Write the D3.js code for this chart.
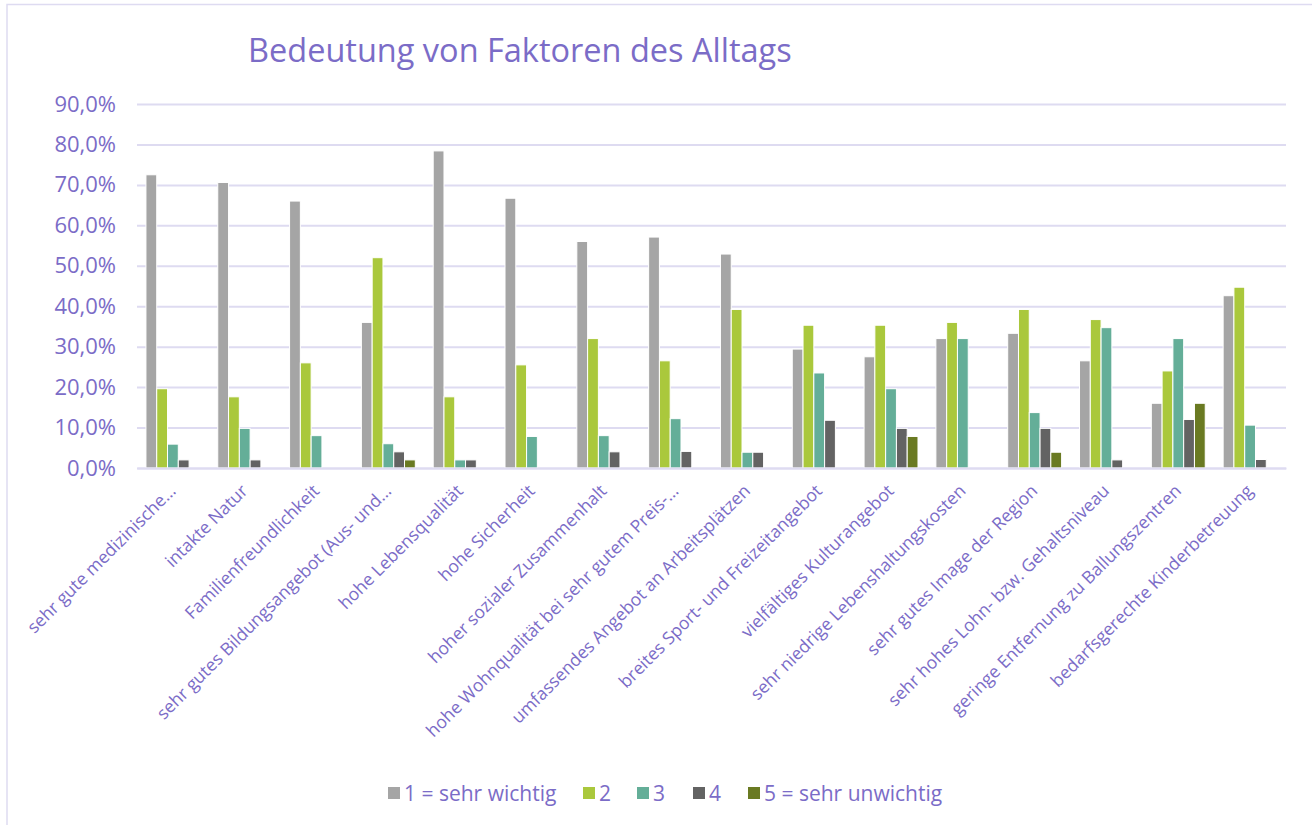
<!DOCTYPE html>
<html>
<head>
<meta charset="utf-8">
<script src="https://cdn.jsdelivr.net/npm/d3@7"></script>
<style>
  body { margin: 0; background: #fff; }
  text { font-family: "Open Sans", sans-serif; fill: #7b6cc7; }
</style>
</head>
<body>
<svg width="1312" height="825"></svg>
<script>
const categories = [
  'sehr gute medizinische…',
  'intakte Natur',
  'Familienfreundlichkeit',
  'sehr gutes Bildungsangebot (Aus- und…',
  'hohe Lebensqualität',
  'hohe Sicherheit',
  'hoher sozialer Zusammenhalt',
  'hohe Wohnqualität bei sehr gutem Preis-…',
  'umfassendes Angebot an Arbeitsplätzen',
  'breites Sport- und Freizeitangebot',
  'vielfältiges Kulturangebot',
  'sehr niedrige Lebenshaltungskosten',
  'sehr gutes Image der Region',
  'sehr hohes Lohn- bzw. Gehaltsniveau',
  'geringe Entfernung zu Ballungszentren',
  'bedarfsgerechte Kinderbetreuung'
];
const seriesNames = ['1 = sehr wichtig', '2', '3', '4', '5 = sehr unwichtig'];
const colors = ['#a5a5a5', '#aac83c', '#64ae98', '#636363', '#6a7a22'];

// Werte in %
const s1 = [72.5, 70.6, 66.0, 36.0, 78.4, 66.7, 56.0, 57.1, 52.9, 29.4, 27.5, 32.0, 33.3, 26.5, 16.0, 42.6];
const s2 = [19.6, 17.6, 26.0, 52.0, 17.6, 25.5, 32.0, 26.5, 39.2, 35.3, 35.3, 36.0, 39.2, 36.7, 24.0, 44.7];
const s3 = [5.9, 9.8, 8.0, 6.0, 2.0, 7.8, 8.0, 12.2, 3.9, 23.5, 19.6, 32.0, 13.7, 34.7, 32.0, 10.6];
const s4 = [2.0, 2.0, 0, 4.0, 2.0, 0, 4.0, 4.1, 3.9, 11.8, 9.8, 0, 9.8, 2.0, 12.0, 2.1];
const s5 = [0, 0, 0, 2.0, 0, 0, 0, 0, 0, 0, 7.8, 0, 3.9, 0, 16.0, 0];
const yTicks = [0, 10, 20, 30, 40, 50, 60, 70, 80, 90];

const series = [s1, s2, s3, s4, s5];
const data = categories.map((c, i) => ({ cat: c, values: series.map(s => s[i]) }));

const svg = d3.select('svg');
const plotLeft = 137, plotRight = 1286, plotTop = 104, plotBottom = 468;

svg.append('rect')
  .attr('x', 7).attr('y', 4.5)
  .attr('width', 1320).attr('height', 830)
  .attr('fill', 'none')
  .attr('stroke', '#dedbf1')
  .attr('stroke-width', 1.5);

const x0 = d3.scaleBand().domain(categories).range([plotLeft, plotRight]);
const x1 = d3.scaleBand().domain(d3.range(5))
  .range([0, x0.bandwidth()])
  .paddingOuter(0.83);
const y = d3.scaleLinear().domain([0, 90]).range([plotBottom, plotTop]);

const fmt = v => v.toFixed(1).replace('.', ',') + '%';

const yAxis = d3.axisLeft(y)
  .tickValues(yTicks)
  .tickSize(-(plotRight - plotLeft))
  .tickPadding(21)
  .tickFormat(fmt);

const yAxisG = svg.append('g')
  .attr('transform', `translate(${plotLeft},0)`)
  .call(yAxis);
yAxisG.select('.domain').remove();
yAxisG.selectAll('line').attr('stroke', '#dedbf1').attr('stroke-width', 2);
yAxisG.selectAll('text')
  .style('font-size', '22px')
  .attr('fill', '#7b6cc7');

svg.append('g')
  .selectAll('g')
  .data(data)
  .join('g')
    .attr('transform', d => `translate(${x0(d.cat)},0)`)
  .selectAll('rect')
  .data(d => d.values.map((v, k) => ({ v, k })).filter(e => e.v > 0))
  .join('rect')
    .attr('x', e => x1(e.k))
    .attr('y', e => y(e.v))
    .attr('width', x1.bandwidth())
    .attr('height', e => y(0) - y(e.v))
    .attr('fill', e => colors[e.k])
    .attr('stroke', '#fff')
    .attr('stroke-width', 1);

const xAxisG = svg.append('g')
  .attr('transform', `translate(0,${plotBottom})`)
  .call(d3.axisBottom(x0).tickSize(0).tickPadding(0));
xAxisG.select('.domain').attr('stroke', '#dedbf1').attr('stroke-width', 2);
xAxisG.selectAll('text')
  .attr('fill', '#7b6cc7')
  .style('font-size', '17.5px')
  .style('text-anchor', 'end')
  .attr('dy', 0)
  .attr('transform', 'translate(4,24) rotate(-45)');

svg.append('text')
  .attr('x', 248)
  .attr('y', 62)
  .style('font-size', '32.5px')
  .text('Bedeutung von Faktoren des Alltags');

const legendX = [388, 583, 637, 693, 748];
const legend = svg.append('g')
  .selectAll('g')
  .data(seriesNames)
  .join('g')
    .attr('transform', (d, i) => `translate(${legendX[i]},787)`);
legend.append('rect')
  .attr('width', 12).attr('height', 12)
  .attr('fill', (d, i) => colors[i]);
legend.append('text')
  .attr('x', 16)
  .attr('y', 14)
  .style('font-size', '21px')
  .text(d => d);
</script>
</body>
</html>
